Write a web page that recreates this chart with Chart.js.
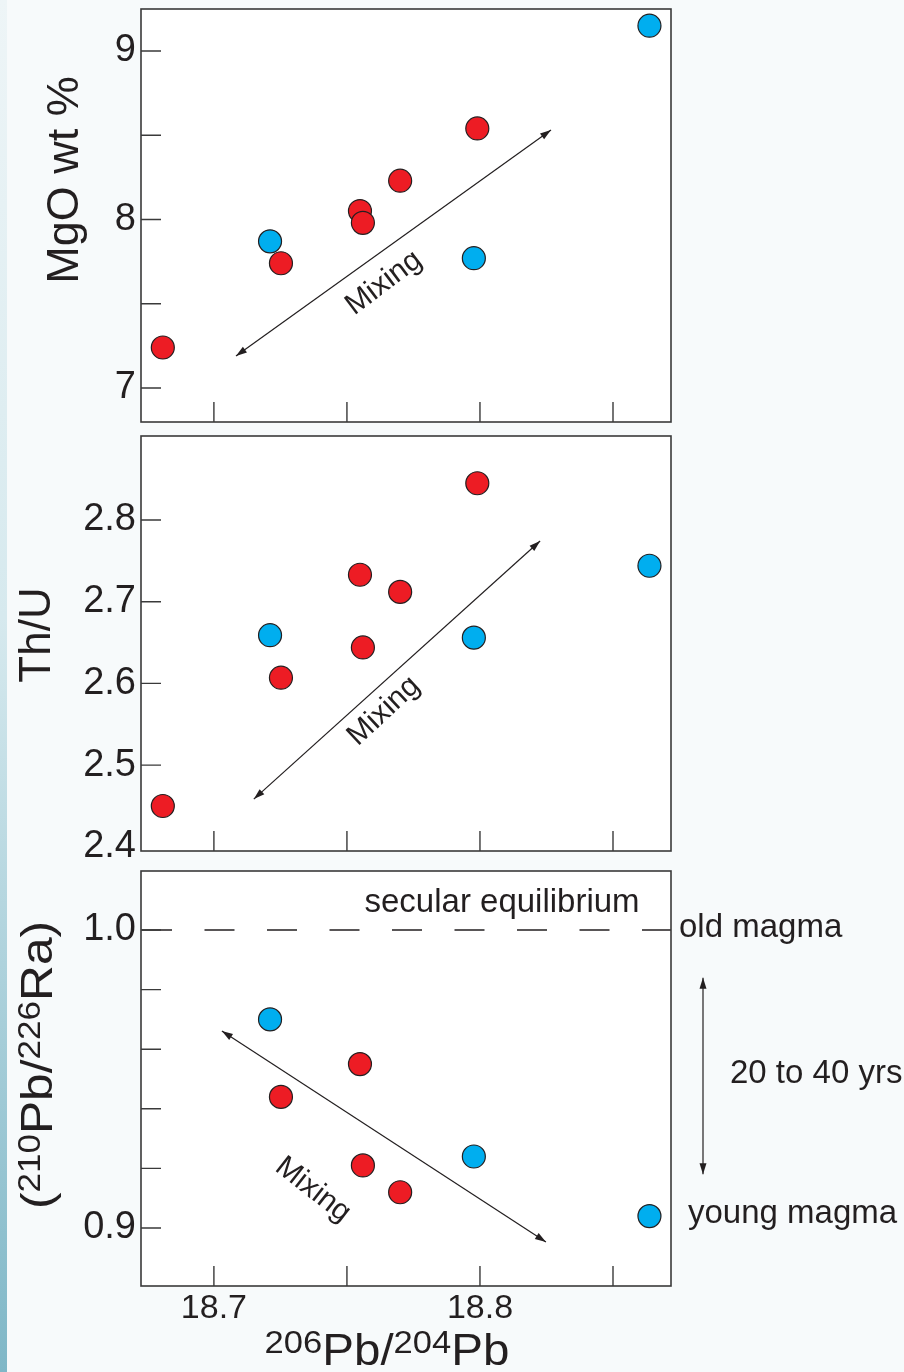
<!DOCTYPE html>
<html>
<head>
<meta charset="utf-8">
<title>MgO, Th/U and (210Pb/226Ra) vs 206Pb/204Pb</title>
<script src="https://cdn.jsdelivr.net/npm/chart.js@4.4.1/dist/chart.umd.min.js"></script>
<style>
  body { margin: 0; background: #f7fafb; }
  #wrap { position: relative; width: 904px; height: 1372px; overflow: hidden; }
  #edge { position: absolute; left: 0; top: 0; width: 7px; height: 1372px;
          background: linear-gradient(#eef5f7, #d6e9ee 45%, #7fb7c7); }
  canvas { position: absolute; left: 0; }
</style>
</head>
<body>
<div id="wrap">
  <div id="edge"></div>
  <canvas id="mgo" width="904" height="436" style="top:0"></canvas>
  <canvas id="thu" width="904" height="436" style="top:430px"></canvas>
  <canvas id="pbra" width="904" height="506" style="top:866px"></canvas>
</div>
<script>
// 206Pb/204Pb of each sample (same samples in all three panels)
const redPb = [18.6808, 18.7252, 18.7549, 18.7560, 18.7700, 18.7990];
const bluePb = [18.7211, 18.7977, 18.8637];

// MgO wt %
const mgoRed = [7.24, 7.74, 8.05, 7.98, 8.23, 8.54];
const mgoBlue = [7.87, 7.77, 9.15];

// Th/U
const thuRed = [2.450, 2.607, 2.733, 2.644, 2.712, 2.845];
const thuBlue = [2.659, 2.656, 2.744];

// (210Pb/226Ra)
const raRed = [null, 0.944, 0.955, 0.921, 0.912, null];
const raBlue = [0.970, 0.924, 0.904];

// ticks (labels only where listed)
const pbTicks = [18.7, 18.75, 18.8, 18.85];
const pbLabels = [18.7, 18.8];
const mgoTicks = [7, 7.5, 8, 8.5, 9];
const mgoLabels = [7, 8, 9];
const thuTicks = [2.4, 2.5, 2.6, 2.7, 2.8];
const raTicks = [0.9, 0.92, 0.94, 0.96, 0.98, 1.0];
const raLabels = [0.9, 1.0];

const INK = '#231f20';
const RED = '#ed1c24';
const BLUE = '#00aeef';
const FONT = '"Liberation Sans", Arial, Helvetica, sans-serif';

Chart.defaults.font.family = FONT;
Chart.defaults.color = INK;

function pts(xs, ys) {
  return xs.map((v, i) => ({ x: v, y: ys[i] })).filter(p => p.y != null);
}

function has(list, v) {
  return list.some(l => Math.abs(l - v) < 1e-9);
}

// arrow helpers
function head(ctx, x0, y0, x1, y1) {
  const a = Math.atan2(y1 - y0, x1 - x0), L = 11, W = 3.5;
  const bx = x1 - L * Math.cos(a), by = y1 - L * Math.sin(a);
  ctx.beginPath();
  ctx.moveTo(x1, y1);
  ctx.lineTo(bx + W * Math.sin(a), by - W * Math.cos(a));
  ctx.lineTo(bx - W * Math.sin(a), by + W * Math.cos(a));
  ctx.closePath();
  ctx.fill();
}

function arrow(ctx, x0, y0, x1, y1) {
  ctx.save();
  ctx.strokeStyle = INK;
  ctx.fillStyle = INK;
  ctx.lineWidth = 1.2;
  ctx.beginPath();
  ctx.moveTo(x0, y0);
  ctx.lineTo(x1, y1);
  ctx.stroke();
  head(ctx, x0, y0, x1, y1);
  head(ctx, x1, y1, x0, y0);
  ctx.restore();
}

// text with superscripts: parts = [[text, isSup], ...], centred on x, baseline y
function richText(ctx, parts, x, y, rot, size, supSize, stretch) {
  ctx.save();
  ctx.translate(x, y);
  ctx.rotate(rot);
  ctx.scale(stretch || 1, 1);
  ctx.fillStyle = INK;
  ctx.textBaseline = 'alphabetic';
  ctx.textAlign = 'left';
  const fontFor = sup => (sup ? supSize : size) + 'px ' + FONT;
  let total = 0;
  parts.forEach(([t, sup]) => { ctx.font = fontFor(sup); total += ctx.measureText(t).width; });
  let cx = -total / 2;
  parts.forEach(([t, sup]) => {
    ctx.font = fontFor(sup);
    ctx.fillText(t, cx, sup ? -size * 0.28 : 0);
    cx += ctx.measureText(t).width;
  });
  ctx.restore();
}

function label(ctx, text, x, y, rot, size, align) {
  ctx.save();
  ctx.translate(x, y);
  ctx.rotate(rot);
  ctx.font = size + 'px ' + FONT;
  ctx.fillStyle = INK;
  ctx.textAlign = align || 'center';
  ctx.textBaseline = align ? 'alphabetic' : 'middle';
  ctx.fillText(text, 0, 0);
  ctx.restore();
}

const deg = d => d * Math.PI / 180;

// white plot box, frame and inward tick marks
const frame = {
  id: 'frame',
  beforeDraw(chart) {
    const { ctx, chartArea: a } = chart;
    ctx.save();
    ctx.fillStyle = '#ffffff';
    ctx.fillRect(a.left, a.top, a.right - a.left, a.bottom - a.top);
    ctx.restore();
  },
  afterDraw(chart) {
    const { ctx, chartArea: a, scales: { x, y } } = chart;
    ctx.save();
    ctx.strokeStyle = '#3a3a3a';
    ctx.lineWidth = 1.6;
    ctx.strokeRect(a.left, a.top, a.right - a.left, a.bottom - a.top);
    ctx.beginPath();
    x.ticks.forEach(t => {
      const px = x.getPixelForValue(t.value);
      ctx.moveTo(px, a.bottom);
      ctx.lineTo(px, a.bottom - 20);
    });
    y.ticks.forEach(t => {
      const py = y.getPixelForValue(t.value);
      if (py < a.top + 6 || py > a.bottom - 6) return;
      ctx.moveTo(a.left, py);
      ctx.lineTo(a.left + 20, py);
    });
    ctx.lineWidth = 1.4;
    ctx.stroke();
    ctx.restore();
  }
};

function xAxis(height, showLabels) {
  return {
    type: 'linear',
    min: 18.6726,
    max: 18.8718,
    afterBuildTicks: s => { s.ticks = pbTicks.map(v => ({ value: v })); },
    afterFit: s => { s.height = height; s.paddingLeft = 0; s.paddingRight = 0; },
    grid: { display: false, drawTicks: false },
    border: { display: false },
    ticks: {
      padding: 2,
      autoSkip: false,
      maxRotation: 0,
      font: { size: 34 },
      color: INK,
      callback: v => (showLabels && has(pbLabels, v)) ? v.toFixed(1) : ''
    }
  };
}

function yAxis(min, max, ticks, labels, digits) {
  return {
    min: min,
    max: max,
    afterBuildTicks: s => { s.ticks = ticks.map(v => ({ value: v })); },
    afterFit: s => { s.width = 141; s.paddingTop = 0; s.paddingBottom = 0; },
    grid: { display: false, drawTicks: false },
    border: { display: false },
    ticks: {
      padding: 5,
      autoSkip: false,
      font: { size: 38 },
      color: INK,
      callback: v => has(labels, v) ? v.toFixed(digits) : ''
    }
  };
}

function panel(id, red, blue, padTop, xHeight, showX, y, notes) {
  return new Chart(document.getElementById(id), {
    type: 'scatter',
    data: {
      datasets: [
        { data: pts(redPb, red), backgroundColor: RED },
        { data: pts(bluePb, blue), backgroundColor: BLUE }
      ].map(d => Object.assign(d, {
        borderColor: INK, borderWidth: 1.2, pointRadius: 11.5, pointHoverRadius: 11.5, clip: false
      }))
    },
    options: {
      responsive: false,
      animation: false,
      events: [],
      layout: { autoPadding: false, padding: { top: padTop, right: 233, bottom: 0, left: 0 } },
      plugins: { legend: { display: false }, tooltip: { enabled: false } },
      scales: { x: xAxis(xHeight, showX), y: y }
    },
    plugins: [frame, { id: id + 'Notes', afterDatasetsDraw: notes }]
  });
}

// MgO panel
panel('mgo', mgoRed, mgoBlue, 9, 14, false,
  yAxis(6.798, 9.249, mgoTicks, mgoLabels, 0),
  chart => {
    const { ctx, scales: { x, y } } = chart;
    arrow(ctx, x.getPixelForValue(18.7083), y.getPixelForValue(7.19),
               x.getPixelForValue(18.8267), y.getPixelForValue(8.531));
    label(ctx, 'Mixing', x.getPixelForValue(18.7639), y.getPixelForValue(7.623), deg(-37), 30);
    richText(ctx, [['MgO wt %', false]], 78, 180, deg(-90), 45, 45);
  });

// Th/U panel
panel('thu', thuRed, thuBlue, 6, 15, false,
  yAxis(2.3949, 2.9028, thuTicks, thuTicks, 1),
  chart => {
    const { ctx, scales: { x, y } } = chart;
    arrow(ctx, x.getPixelForValue(18.7150), y.getPixelForValue(2.4584),
               x.getPixelForValue(18.8226), y.getPixelForValue(2.7743));
    label(ctx, 'Mixing', x.getPixelForValue(18.7639), y.getPixelForValue(2.566), deg(-43), 30);
    richText(ctx, [['Th/U', false]], 50, 205, deg(-90), 44, 44);
  });

// (210Pb/226Ra) panel
panel('pbra', raRed, raBlue, 5, 86, true,
  yAxis(0.88054, 1.0198, raTicks, raLabels, 1),
  chart => {
    const { ctx, chartArea: a, scales: { x, y } } = chart;
    const y1 = y.getPixelForValue(1.0);

    // secular equilibrium line
    ctx.save();
    ctx.strokeStyle = INK;
    ctx.lineWidth = 1.4;
    ctx.setLineDash([30, 32.5]);
    ctx.beginPath();
    ctx.moveTo(a.left + 1, y1);
    ctx.lineTo(a.right, y1);
    ctx.stroke();
    ctx.restore();

    label(ctx, 'secular equilibrium', x.getPixelForValue(18.8083), y1 - 18, 0, 33, 'center');
    label(ctx, 'old magma', a.right + 8, y1 + 7, 0, 33, 'left');
    label(ctx, '20 to 40 yrs', a.right + 59, y.getPixelForValue(0.9487), 0, 33, 'left');
    label(ctx, 'young magma', a.right + 17, y.getPixelForValue(0.9) - 5, 0, 33, 'left');
    arrow(ctx, a.right + 32, y.getPixelForValue(0.984), a.right + 32, y.getPixelForValue(0.918));

    arrow(ctx, x.getPixelForValue(18.7030), y.getPixelForValue(0.9661),
               x.getPixelForValue(18.8248), y.getPixelForValue(0.8953));
    label(ctx, 'Mixing', x.getPixelForValue(18.7372), y.getPixelForValue(0.9128), deg(38), 30);

    richText(ctx, [['(', false], ['210', true], ['Pb/', false], ['226', true], ['Ra)', false]],
      52, 199, deg(-90), 44, 31, 1.13);
    richText(ctx, [['206', true], ['Pb/', false], ['204', true], ['Pb', false]],
      387, 499, 0, 44, 32, 1.08);
  });
</script>
</body>
</html>
